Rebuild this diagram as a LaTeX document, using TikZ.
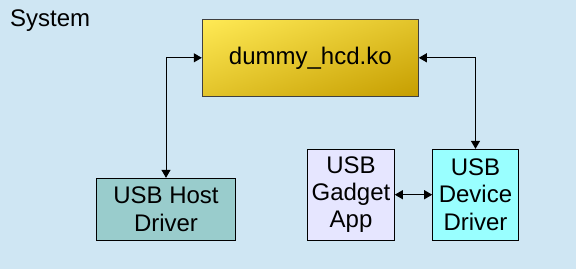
\documentclass[tikz,border=0pt]{standalone}
\usepackage{fontspec}
\setmainfont{Liberation Sans}
\usetikzlibrary{arrows.meta,shadings}
\definecolor{bgblue}{RGB}{207,230,243}
\definecolor{goldA}{RGB}{255,234,85}
\definecolor{goldB}{RGB}{198,158,0}
\colorlet{goldM}{goldA!50!goldB}
\definecolor{hostfill}{RGB}{153,204,204}
\definecolor{gadgetfill}{RGB}{230,230,255}
\definecolor{devfill}{RGB}{153,255,255}
\definecolor{dkborder}{RGB}{64,64,64}
\tikzset{
  txt/.style={font=\fontsize{24}{27.4}\selectfont},
  box/.style={txt, draw=black, line width=1pt, inner sep=0pt, align=center},
  conn/.style={line width=1pt, {Triangle[length=8pt,width=9pt]}-{Triangle[length=8pt,width=9pt]}},
}
\begin{document}
\begin{tikzpicture}[x=1pt,y=-1pt]
\fill[bgblue] (0,0) rectangle (576,269);
\useasboundingbox (0,0) rectangle (576,269);
\node[txt, anchor=base west, inner sep=0pt] (sys) at (10,26) {System};
\node[box, draw=dkborder, upper left=goldA, lower right=goldB, upper right=goldM, lower left=goldM,
  minimum width=216pt, minimum height=77pt] (dummy) at (310.3,57.8) {dummy\_hcd.ko};
\node[box, fill=hostfill, minimum width=138.6pt, minimum height=61.7pt] (host) at (166,209.2) {USB Host\\Driver};
\node[box, fill=gadgetfill, minimum width=86.6pt, minimum height=90.7pt] (gadget) at (351,194.7) {USB\\Gadget\\App};
\node[box, fill=devfill, minimum width=85.6pt, minimum height=90.7pt] (device) at (475.5,194.7) {USB\\Device\\Driver};
\draw[conn] (host.north) |- (dummy.west);
\draw[conn] (device.north) |- (dummy.east);
\draw[conn] (gadget.east) -- (device.west);
\end{tikzpicture}
\end{document}
